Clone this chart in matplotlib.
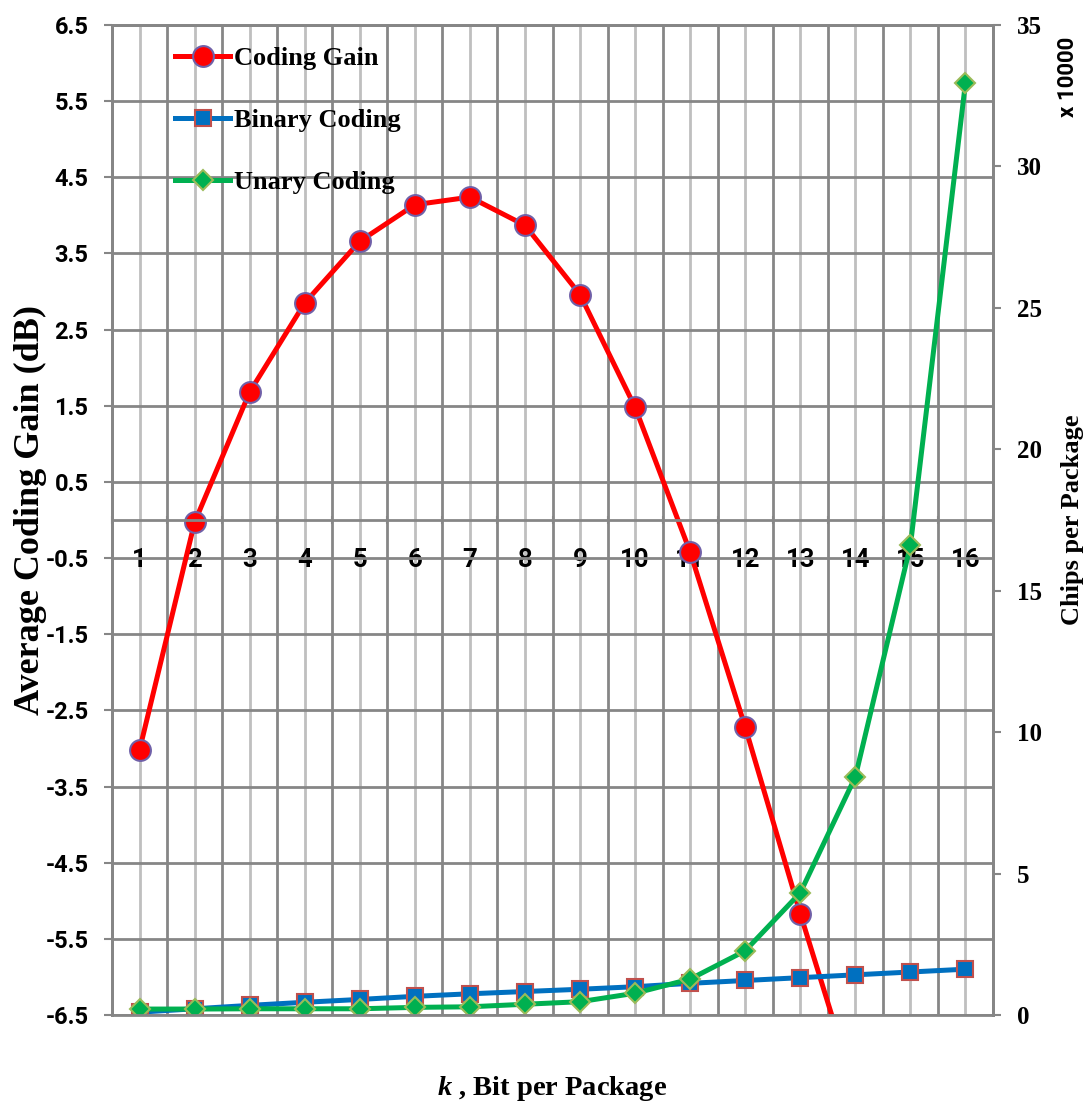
import numpy as np
import matplotlib
matplotlib.use('Agg')
import matplotlib.pyplot as plt
from matplotlib.ticker import FixedLocator, FormatStrFormatter

plt.rcParams['mathtext.fontset'] = 'custom'
plt.rcParams['mathtext.it'] = 'Liberation Serif:italic:bold'
plt.rcParams['mathtext.rm'] = 'Liberation Serif:bold'

# data
k = np.arange(1, 17)
coding_gain = [-3.02, -0.03, 1.68, 2.85, 3.66, 4.14, 4.24, 3.87, 2.96, 1.48,
               -0.42, -2.72, -5.17, -7.5, -10.0, -12.6]
binary_chips = [0.10, 0.22, 0.34, 0.45, 0.55, 0.66, 0.75, 0.83, 0.91, 1.00,
                1.12, 1.22, 1.32, 1.42, 1.52, 1.62]
unary_chips = [0.21, 0.21, 0.22, 0.22, 0.22, 0.27, 0.29, 0.38, 0.47, 0.77,
               1.27, 2.27, 4.32, 8.42, 16.6, 32.96]
left_ticks = np.arange(-6.5, 7.0, 1.0)
right_ticks = np.arange(0, 40, 5)

dark = '#868686'
light = '#BFBFBF'
sans = dict(family='Roboto', weight='bold')
serif = dict(family='Liberation Serif', weight='bold')

fig = plt.figure(figsize=(10.83, 11.05), dpi=100)
ax = fig.add_axes([112 / 1083, 90 / 1105, 881 / 1083, 990 / 1105])

ax.set_xlim(0.5, 16.5)
ax.set_ylim(-6.5, 6.5)
ax.set_yticks(left_ticks)
ax.yaxis.set_major_formatter(FormatStrFormatter('%.1f'))
ax.set_xticks(k)
ax.xaxis.set_minor_locator(FixedLocator(np.arange(0.5, 17, 1.0)))

ax.grid(which='major', axis='x', color=light, linewidth=2)
ax.grid(which='minor', axis='x', color=dark, linewidth=2)
ax.grid(which='major', axis='y', color=dark, linewidth=2)

ax.spines['bottom'].set_position(('data', 0))
for s in ax.spines.values():
    s.set_color(dark)
    s.set_linewidth(2)

ax.tick_params(axis='x', which='major', length=0, pad=20, labelsize=18.5)
ax.tick_params(axis='x', which='minor', length=6, direction='inout', color=dark, width=1.5)
ax.tick_params(axis='y', length=6, color=dark, width=1.5, pad=11, labelsize=17)
for lab in ax.get_xticklabels() + ax.get_yticklabels():
    lab.set_fontfamily('Roboto')
    lab.set_fontweight('bold')

l1, = ax.plot(k, coding_gain, color='#FF0000', linewidth=3.6, marker='o',
              markersize=15, markerfacecolor='#FF0000', markeredgecolor='#7060A8',
              markeredgewidth=1.5, label='Coding Gain')

ax.set_ylabel('Average Coding Gain (dB)', fontsize=26, **serif)
ax.yaxis.set_label_coords(-0.074, 0.51)

ax2 = ax.twinx()
ax2.set_ylim(0, 35)
ax2.set_yticks(right_ticks)
for s in ax2.spines.values():
    s.set_color(dark)
    s.set_linewidth(2)
ax2.tick_params(axis='y', length=6, color=dark, width=1.5, pad=11, labelsize=18)
for lab in ax2.get_yticklabels():
    lab.set_fontfamily('Liberation Serif')
    lab.set_fontweight('bold')

l2, = ax2.plot(k, binary_chips, color='#0070C0', linewidth=3.6, marker='s',
               markersize=12, markerfacecolor='#0070C0', markeredgecolor='#C0504D',
               markeredgewidth=1.5, label='Binary Coding')
l3, = ax2.plot(k, unary_chips, color='#00B050', linewidth=3.6, marker='D',
               markersize=10.5, markerfacecolor='#00B050', markeredgecolor='#9BBB59',
               markeredgewidth=1.5, label='Unary Coding')

ax2.set_ylabel('Chips per Package', fontsize=19, labelpad=14, **serif)

ax.xaxis.set_label_coords(0.5, -0.06)
ax.set_xlabel(r'$k$ , Bit per Package', fontsize=20.5, **serif)

fig.text(1068 / 1083, 1 - 77 / 1105, 'x 10000', rotation=90, ha='center',
         va='center', fontsize=16, **sans)

leg = ax2.legend(handles=[l1, l2, l3], loc='upper left',
                 bbox_to_anchor=(175 / 1083, 1 - 47 / 1105),
                 bbox_transform=fig.transFigure, frameon=False, borderpad=0,
                 borderaxespad=0, handlelength=2.1, handletextpad=0.15,
                 labelspacing=1.45, prop=dict(family='Liberation Serif',
                                              weight='bold', size=19))

fig.savefig('out.png', dpi=100)
